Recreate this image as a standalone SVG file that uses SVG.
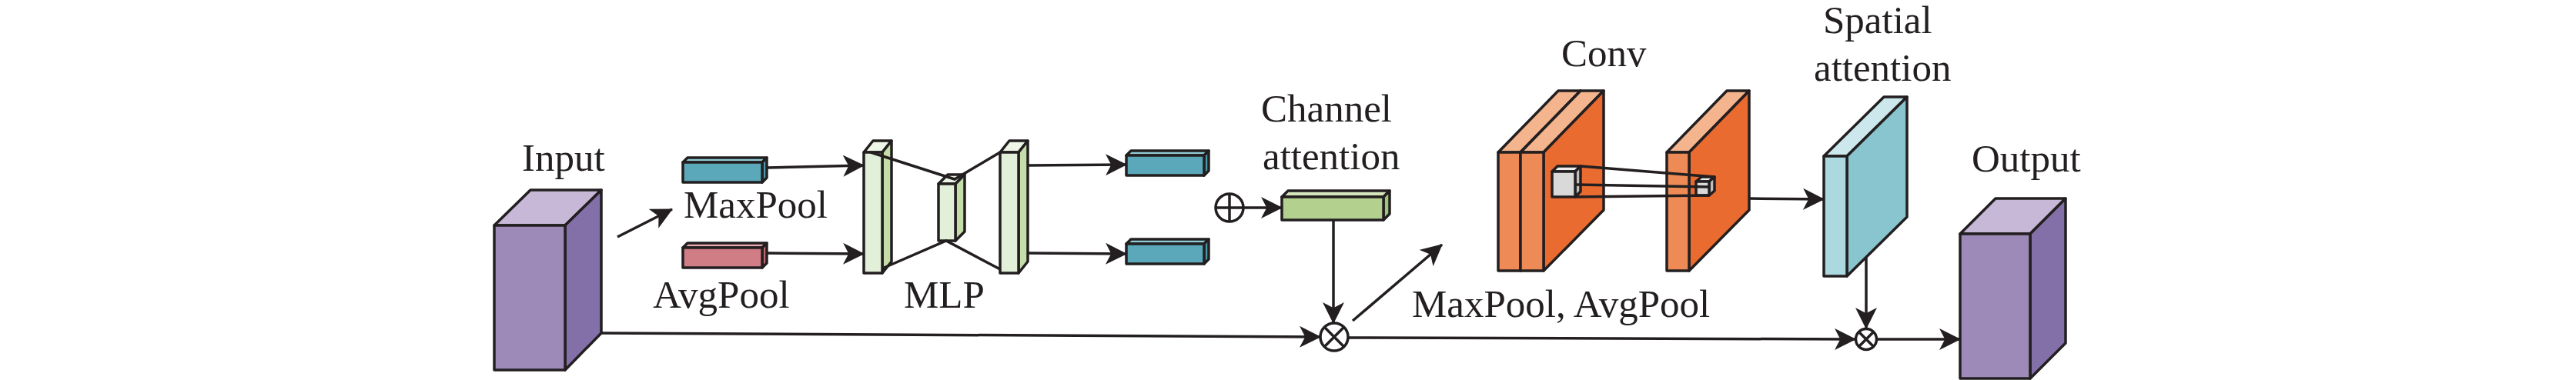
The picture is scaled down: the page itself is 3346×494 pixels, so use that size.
<svg xmlns="http://www.w3.org/2000/svg" width="3346" height="494" viewBox="0 0 3346 494">
<style>
  .o{stroke:#231f20;stroke-width:3.5;stroke-linejoin:round}
  .c{fill:none;stroke:#231f20;stroke-width:3.5}
  .t{font-family:"Liberation Serif","Times New Roman",serif;font-size:51px;fill:#231f20}
  .pf{fill:#9d8ab9}.pt{fill:#c6b8d6}.ps{fill:#8470a9}
  .bf{fill:#5aa8ba}.bt{fill:#8fcbd6}.bs{fill:#4a97aa}
  .rf{fill:#d17d85}.rt{fill:#e6a9ae}.rs{fill:#c0646e}
  .mf{fill:#e2efd9}.mt{fill:#eef6e8}.ms{fill:#c5dda8}
  .gf{fill:#b3d08f}.gt{fill:#d5e6bd}.gs{fill:#a0c47a}
  .of{fill:#ee8a55}.ot{fill:#f4b48d}.os{fill:#e96b30}
  .sf{fill:#acd8df}.st{fill:#cde8ec}.ss{fill:#89c5cf}
  .kf{fill:#d9d9d9}.kt{fill:#ededed}.ks{fill:#bfbfbf}
</style>
<defs>
  <marker id="ah" markerUnits="userSpaceOnUse" markerWidth="28" markerHeight="28" viewBox="0 0 27 27" refX="26" refY="13.5" orient="auto">
    <path d="M0,0 L27,13.5 L0,27 L7,13.5 z" fill="#231f20"/>
  </marker>
</defs>
<rect width="3346" height="494" fill="#ffffff"/>

<g id="input">
  <polygon class="o pt" points="642,293 734,293 781,247 689,247"/>
  <polygon class="o ps" points="734,293 781,247 781,433 734,481"/>
  <rect class="o pf" x="642" y="293" width="92" height="188"/>
  <text class="t" x="678" y="222">Input</text>
</g>

<g id="maxpool">
  <polygon class="o bt" points="887,211 990,211 996,205 893,205"/>
  <polygon class="o bs" points="990,211 996,205 996,231 990,237"/>
  <rect class="o bf" x="887" y="211" width="103" height="26"/>
  <text class="t" x="888" y="283">MaxPool</text>
</g>

<g id="avgpool">
  <polygon class="o rt" points="887,322 990,322 996,316 893,316"/>
  <polygon class="o rs" points="990,322 996,316 996,342 990,348"/>
  <rect class="o rf" x="887" y="322" width="103" height="26"/>
  <text class="t" x="848" y="400">AvgPool</text>
</g>

<g id="mlp">
  <polygon class="o mt" points="1122,198 1146,198 1158,183 1134,183"/>
  <polygon class="o ms" points="1146,198 1158,183 1158,340 1146,355"/>
  <rect class="o mf" x="1122" y="198" width="24" height="157"/>
  <polygon class="o mt" points="1219,239 1241,239 1253,227 1231,227"/>
  <polygon class="o ms" points="1241,239 1253,227 1253,301 1241,313"/>
  <rect class="o mf" x="1219" y="239" width="22" height="74"/>
  <polygon class="o mt" points="1299,198 1323,198 1335,183 1311,183"/>
  <polygon class="o ms" points="1323,198 1335,183 1335,340 1323,355"/>
  <rect class="o mf" x="1299" y="198" width="24" height="157"/>
  <path class="c" d="M1131,198 L1240,233 L1299,198 M1146,349 L1229,313 L1299,350"/>
  <text class="t" x="1174" y="400">MLP</text>
</g>

<g id="mlp-out-max">
  <polygon class="o bt" points="1463,202 1564,202 1570,196 1469,196"/>
  <polygon class="o bs" points="1564,202 1570,196 1570,222 1564,228"/>
  <rect class="o bf" x="1463" y="202" width="101" height="26"/>
</g>

<g id="mlp-out-avg">
  <polygon class="o bt" points="1463,317 1564,317 1570,311 1469,311"/>
  <polygon class="o bs" points="1564,317 1570,311 1570,337 1564,343"/>
  <rect class="o bf" x="1463" y="317" width="101" height="26"/>
</g>

<g id="add">
  <circle class="c" cx="1597" cy="270" r="18"/>
  <path class="c" d="M1579,270 H1615 M1597,252 V288"/>
</g>

<g id="channel-attention">
  <polygon class="o gt" points="1665,256 1797,256 1805,248 1673,248"/>
  <polygon class="o gs" points="1797,256 1805,248 1805,278 1797,286"/>
  <rect class="o gf" x="1665" y="256" width="132" height="30"/>
  <text class="t" x="1638" y="158">Channel</text>
  <text class="t" x="1640" y="220">attention</text>
</g>

<g id="mul1">
  <circle class="c" cx="1733" cy="438" r="18"/>
  <path class="c" d="M1720.3,425.3 L1745.7,450.7 M1745.7,425.3 L1720.3,450.7"/>
</g>

<g id="conv">
  <polygon class="o ot" points="1946,198 1975,198 2053,118 2024,118"/>
  <polygon class="o os" points="1975,198 2053,118 2053,272 1975,352"/>
  <rect class="o of" x="1946" y="198" width="29" height="154"/>
  <polygon class="o ot" points="1975,198 2005,198 2083,118 2053,118"/>
  <polygon class="o os" points="2005,198 2083,118 2083,273 2005,352"/>
  <rect class="o of" x="1975" y="198" width="30" height="154"/>
  <polygon class="o kt" points="2016,223 2046,223 2053,216 2023,216"/>
  <polygon class="o ks" points="2046,223 2053,216 2053,249 2046,256"/>
  <rect class="o kf" x="2016" y="223" width="30" height="33"/>
  <polygon class="o ot" points="2165,198 2194,198 2272,118 2243,118"/>
  <polygon class="o os" points="2194,198 2272,118 2272,273 2194,352"/>
  <rect class="o of" x="2165" y="198" width="29" height="154"/>
  <polygon class="o kt" points="2203,236 2220,236 2227,230 2210,230"/>
  <polygon class="o ks" points="2220,236 2227,230 2227,248 2220,254"/>
  <rect class="o kf" x="2203" y="236" width="17" height="18"/>
  <path class="c" d="M2053,216 L2227,230 M2046,240 L2220,243 M2046,256 L2220,254" stroke-width="3"/>
  <text class="t" x="2028" y="86">Conv</text>
  <text class="t" x="1834" y="412">MaxPool, AvgPool</text>
</g>

<g id="spatial-attention">
  <polygon class="o st" points="2369,203 2399,203 2477,126 2447,126"/>
  <polygon class="o ss" points="2399,203 2477,126 2477,282 2399,359"/>
  <rect class="o sf" x="2369" y="203" width="30" height="156"/>
  <text class="t" x="2368" y="43">Spatial</text>
  <text class="t" x="2356" y="105">attention</text>
</g>

<g id="mul2">
  <circle class="c" cx="2424" cy="441" r="13.5"/>
  <path class="c" d="M2414.5,431.5 L2433.5,450.5 M2433.5,431.5 L2414.5,450.5" stroke-width="3"/>
</g>

<g id="output">
  <polygon class="o pt" points="2546,304 2637,304 2683,258 2592,258"/>
  <polygon class="o ps" points="2637,304 2683,258 2683,446 2637,492"/>
  <rect class="o pf" x="2546" y="304" width="91" height="188"/>
  <text class="t" x="2561" y="223">Output</text>
</g>

<g id="connectors" class="c" marker-end="url(#ah)">
  <path d="M802,308 L873,272"/>
  <path d="M996,218 L1122,215"/>
  <path d="M996,329 L1122,330"/>
  <path d="M1335,215 L1463,214"/>
  <path d="M1335,329 L1463,330"/>
  <path d="M1615,270 L1665,270"/>
  <path d="M1732,286 L1732,420"/>
  <path d="M781,433 L1715,438"/>
  <path d="M1757,417 L1873,318"/>
  <path d="M1751,439 L2410,441"/>
  <path d="M2272,258 L2369,259"/>
  <path d="M2424,334 L2424,427"/>
  <path d="M2438,441 L2546,441"/>
</g>
</svg>
